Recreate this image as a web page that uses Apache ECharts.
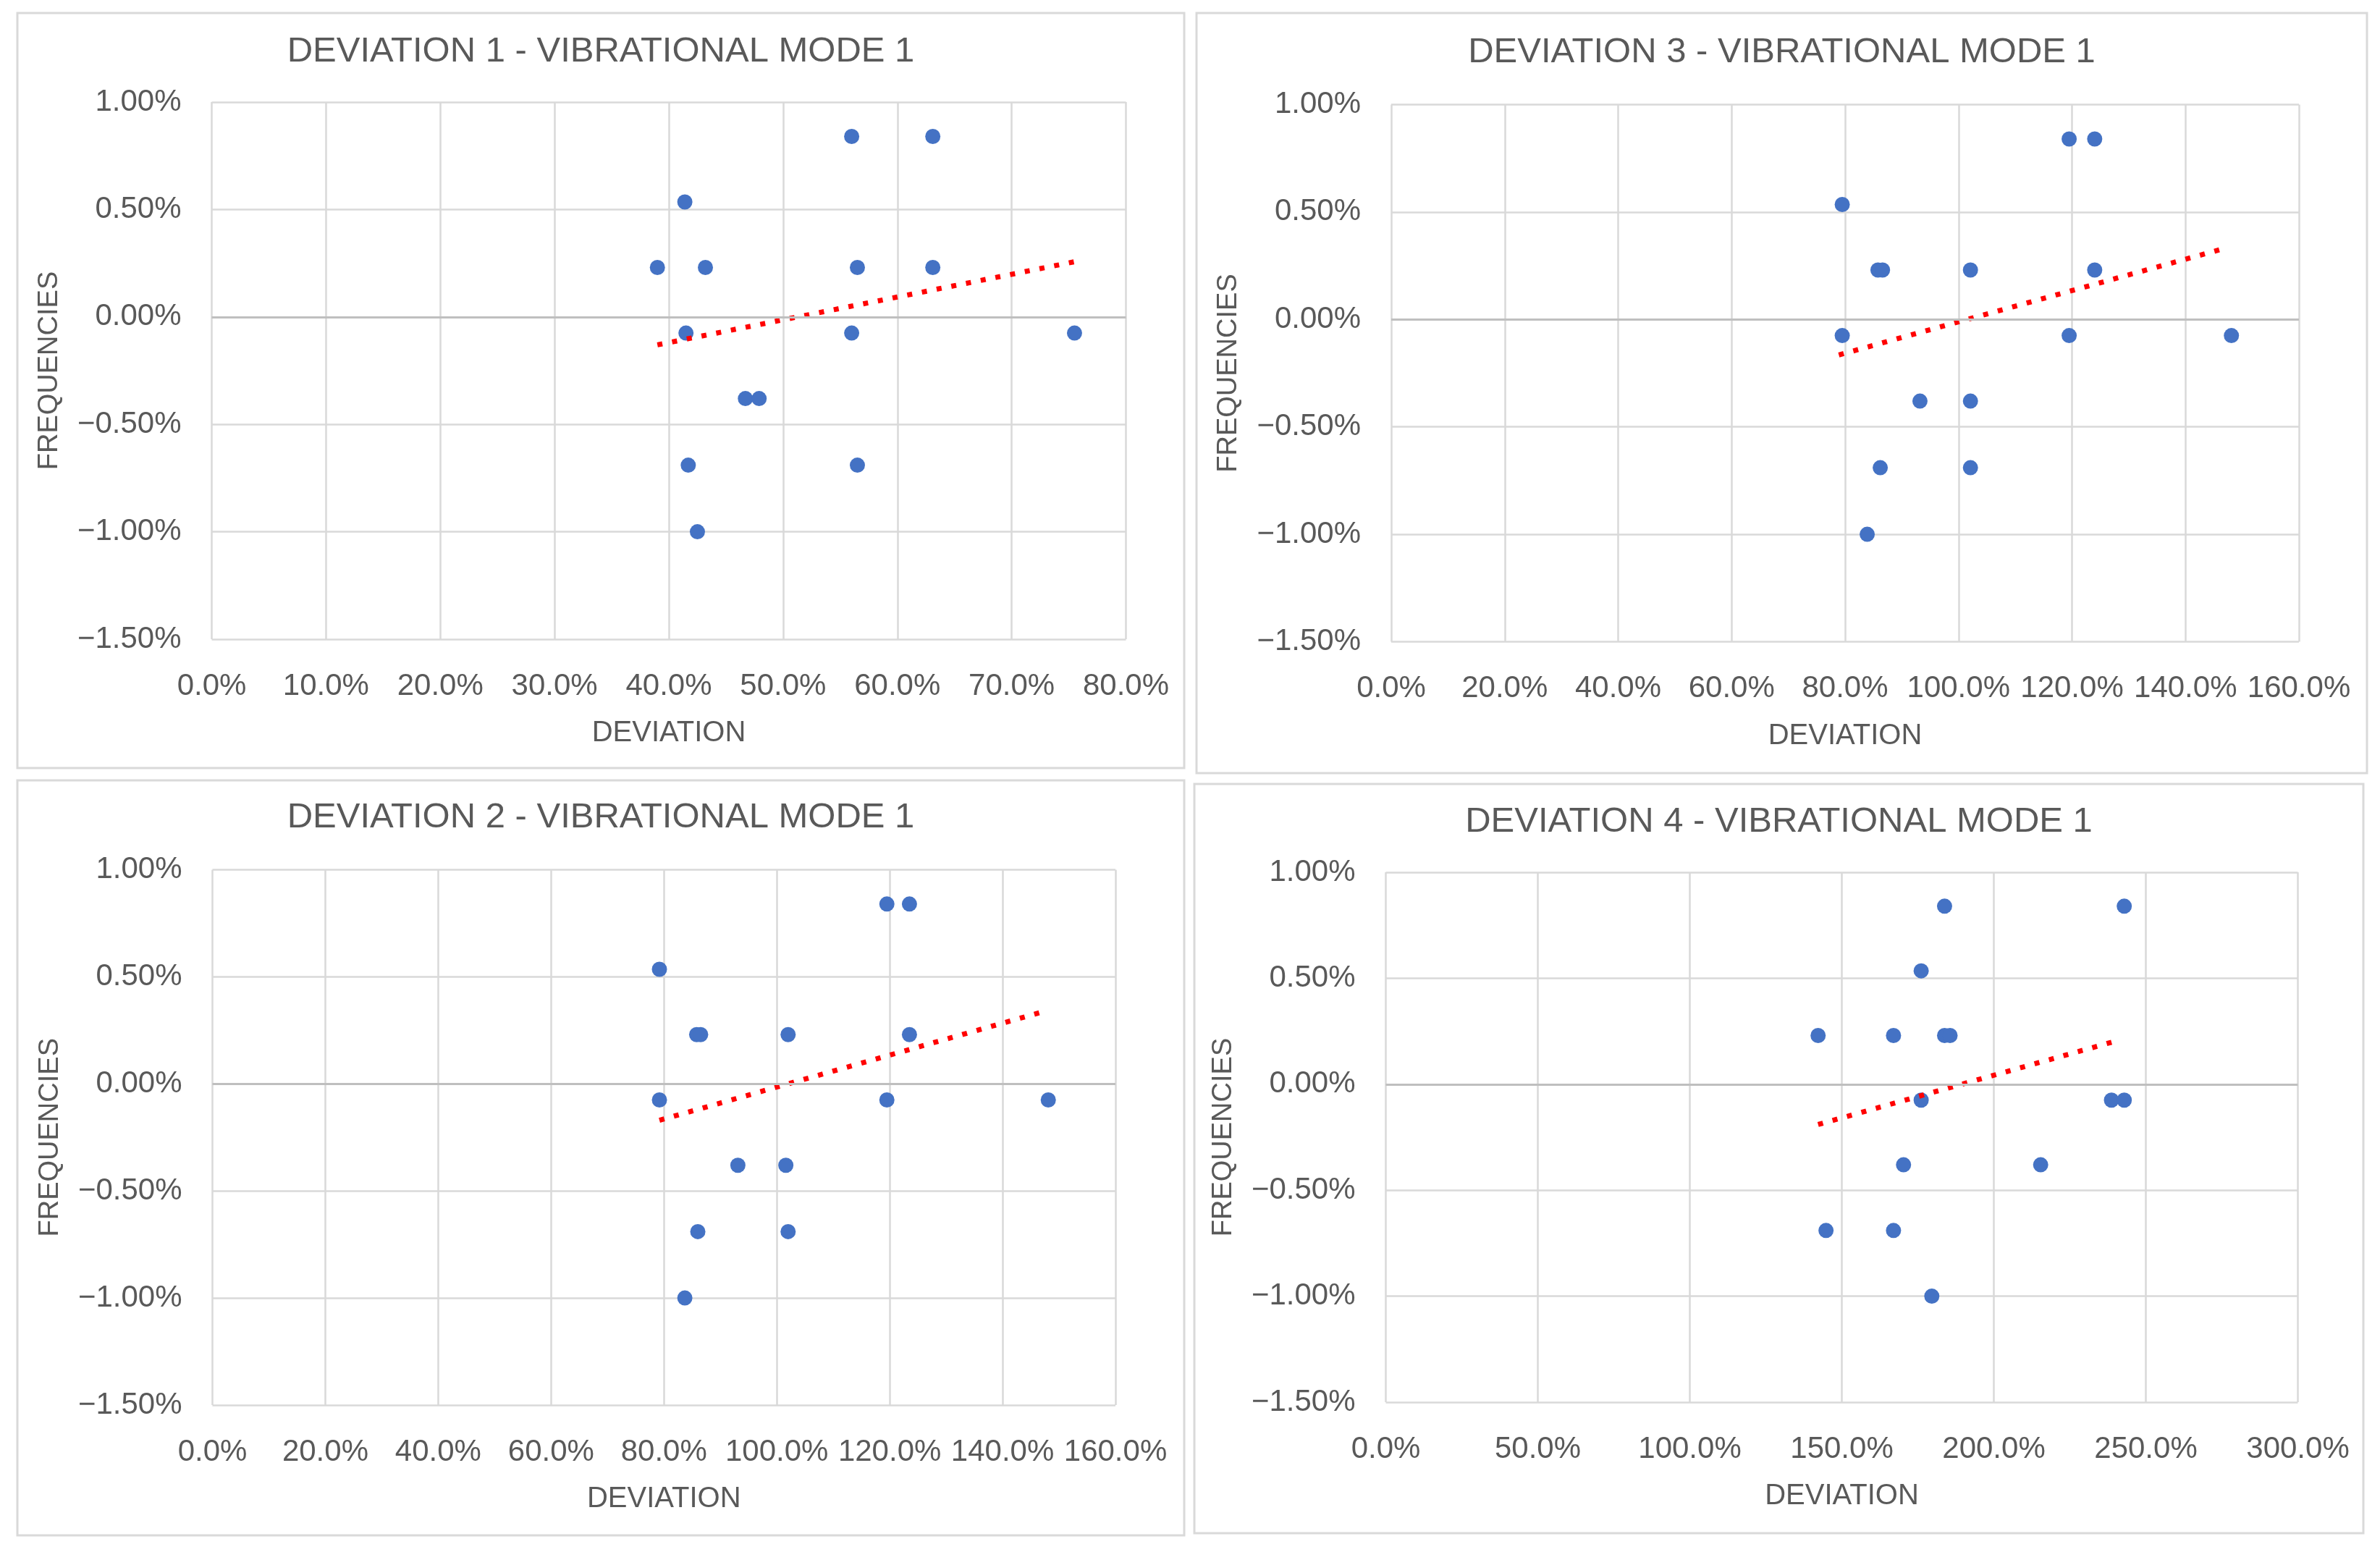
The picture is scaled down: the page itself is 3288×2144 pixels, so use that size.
<!DOCTYPE html>
<html>
<head>
<meta charset="utf-8">
<title>Deviation - vibrational mode 1</title>
<script src="https://cdn.jsdelivr.net/npm/echarts@6/dist/echarts.min.js"></script>
<style>
  html, body { margin: 0; padding: 0; background: #fff; }
  #main { width: 3288px; height: 2144px; }
</style>
</head>
<body>
<div id="main"></div>
<script>
// frequencies (%), same order for every panel
var freq = [0.84, 0.84, 0.535, 0.23, 0.23, 0.23, 0.23, -0.075, -0.075, -0.075, -0.38, -0.38, -0.69, -0.69, -1.0];

// deviation (%) read per panel, paired with freq above
var dev1 = [56.0, 63.1, 41.4, 39.0, 43.2, 56.5, 63.1, 41.5, 56.0, 75.5, 46.7, 47.9, 41.7, 56.5, 42.5];
var dev2 = [119.5, 123.5, 79.2, 85.8, 86.5, 102.0, 123.5, 79.2, 119.5, 148.1, 93.1, 101.6, 86.0, 102.0, 83.7];
var dev3 = [119.5, 124.0, 79.5, 85.8, 86.6, 102.1, 124.0, 79.5, 119.5, 148.1, 93.2, 102.1, 86.2, 102.1, 83.9];
var dev4 = [183.8, 242.9, 176.1, 142.2, 167.0, 183.8, 185.6, 176.1, 238.7, 242.9, 170.3, 215.4, 144.8, 167.0, 179.6];

// linear trend line ends
var trend1 = [[39.0, -0.13], [75.8, 0.26]];
var trend2 = [[79.2, -0.17], [146.9, 0.335]];
var trend3 = [[78.9, -0.165], [146.8, 0.33]];
var trend4 = [[142.2, -0.19], [239.2, 0.20]];

var titles = ['DEVIATION 1 - VIBRATIONAL MODE 1', 'DEVIATION 2 - VIBRATIONAL MODE 1',
              'DEVIATION 3 - VIBRATIONAL MODE 1', 'DEVIATION 4 - VIBRATIONAL MODE 1'];
var xMaxes = [80, 160, 160, 300];
var xSteps = [10, 20, 20, 50];
var yTicks = [-1.5, 1.0, 0.5]; // min, max, step

var FONT = '"Liberation Sans", Arial, sans-serif';
var TXT = '#595959';

// layout of each chart box (page pixels)
var panels = [
  { dev: dev1, trend: trend1, t: 0, box: [24, 18, 1612, 1043], grid: [292.5, 141, 1263, 742], titleY: 71 },
  { dev: dev2, trend: trend2, t: 1, box: [24, 1078, 1612, 1043], grid: [293.5, 1201.5, 1247.5, 739.5], titleY: 1129 },
  { dev: dev3, trend: trend3, t: 2, box: [1653, 18, 1617, 1050], grid: [1922, 144.5, 1254, 742], titleY: 72 },
  { dev: dev4, trend: trend4, t: 3, box: [1650, 1083, 1615, 1035], grid: [1914.5, 1205, 1260, 732], titleY: 1135 }
];

function pctY(v) {
  var s = Math.abs(v).toFixed(2) + '%';
  return v < 0 ? '\u2212' + s : s;
}

var grids = [], xAxes = [], yAxes = [], series = [], graphics = [];

panels.forEach(function (p, i) {
  grids.push({ left: p.grid[0], top: p.grid[1], width: p.grid[2], height: p.grid[3], containLabel: false });

  xAxes.push({
    type: 'value', gridIndex: i, min: 0, max: xMaxes[p.t], interval: xSteps[p.t],
    name: 'DEVIATION', nameLocation: 'middle', nameGap: 110,
    nameTextStyle: { color: TXT, fontSize: 40, fontFamily: FONT },
    axisLine: { show: false }, axisTick: { show: false },
    axisLabel: { color: TXT, fontSize: 42, fontFamily: FONT, margin: 44,
      formatter: function (v) { return v.toFixed(1) + '%'; } },
    splitLine: { show: true, lineStyle: { color: '#d9d9d9', width: 2.5 } }
  });

  yAxes.push({
    type: 'value', gridIndex: i, min: yTicks[0], max: yTicks[1], interval: yTicks[2],
    name: 'FREQUENCIES', nameLocation: 'middle', nameGap: 205, nameRotate: 90,
    nameTextStyle: { color: TXT, fontSize: 38, fontFamily: FONT },
    axisLine: { show: false }, axisTick: { show: false },
    axisLabel: { color: TXT, fontSize: 42, fontFamily: FONT, margin: 42, formatter: pctY },
    splitLine: { show: true, lineStyle: { color: '#d9d9d9', width: 2.5 } }
  });

  var pts = p.dev.map(function (x, k) { return [x, freq[k]]; });

  series.push({
    type: 'scatter', xAxisIndex: i, yAxisIndex: i, data: pts,
    symbol: 'circle', symbolSize: 21,
    itemStyle: { color: '#4472c4', opacity: 1 },
    markLine: {
      silent: true, symbol: 'none', label: { show: false },
      lineStyle: { color: '#bfbfbf', width: 3, type: 'solid' },
      data: [{ yAxis: 0 }]
    },
    z: 3
  });

  series.push({
    type: 'line', xAxisIndex: i, yAxisIndex: i, data: p.trend,
    showSymbol: false, symbol: 'none',
    lineStyle: { color: '#ff0000', width: 7, type: [7, 13.7], cap: 'butt' },
    z: 4
  });

  graphics.push({
    type: 'rect', silent: true, z: -1,
    shape: { x: p.box[0], y: p.box[1], width: p.box[2], height: p.box[3] },
    style: { fill: null, stroke: '#d9d9d9', lineWidth: 3 }
  });
  graphics.push({
    type: 'text', silent: true,
    x: p.box[0] + p.box[2] / 2, y: p.titleY,
    style: { text: titles[p.t], fill: TXT, font: '49px ' + FONT, align: 'center', verticalAlign: 'middle' }
  });
});

var chart = echarts.init(document.getElementById('main'));
chart.setOption({
  animation: false,
  backgroundColor: '#fff',
  grid: grids,
  xAxis: xAxes,
  yAxis: yAxes,
  series: series,
  graphic: { elements: graphics }
});
</script>
</body>
</html>
